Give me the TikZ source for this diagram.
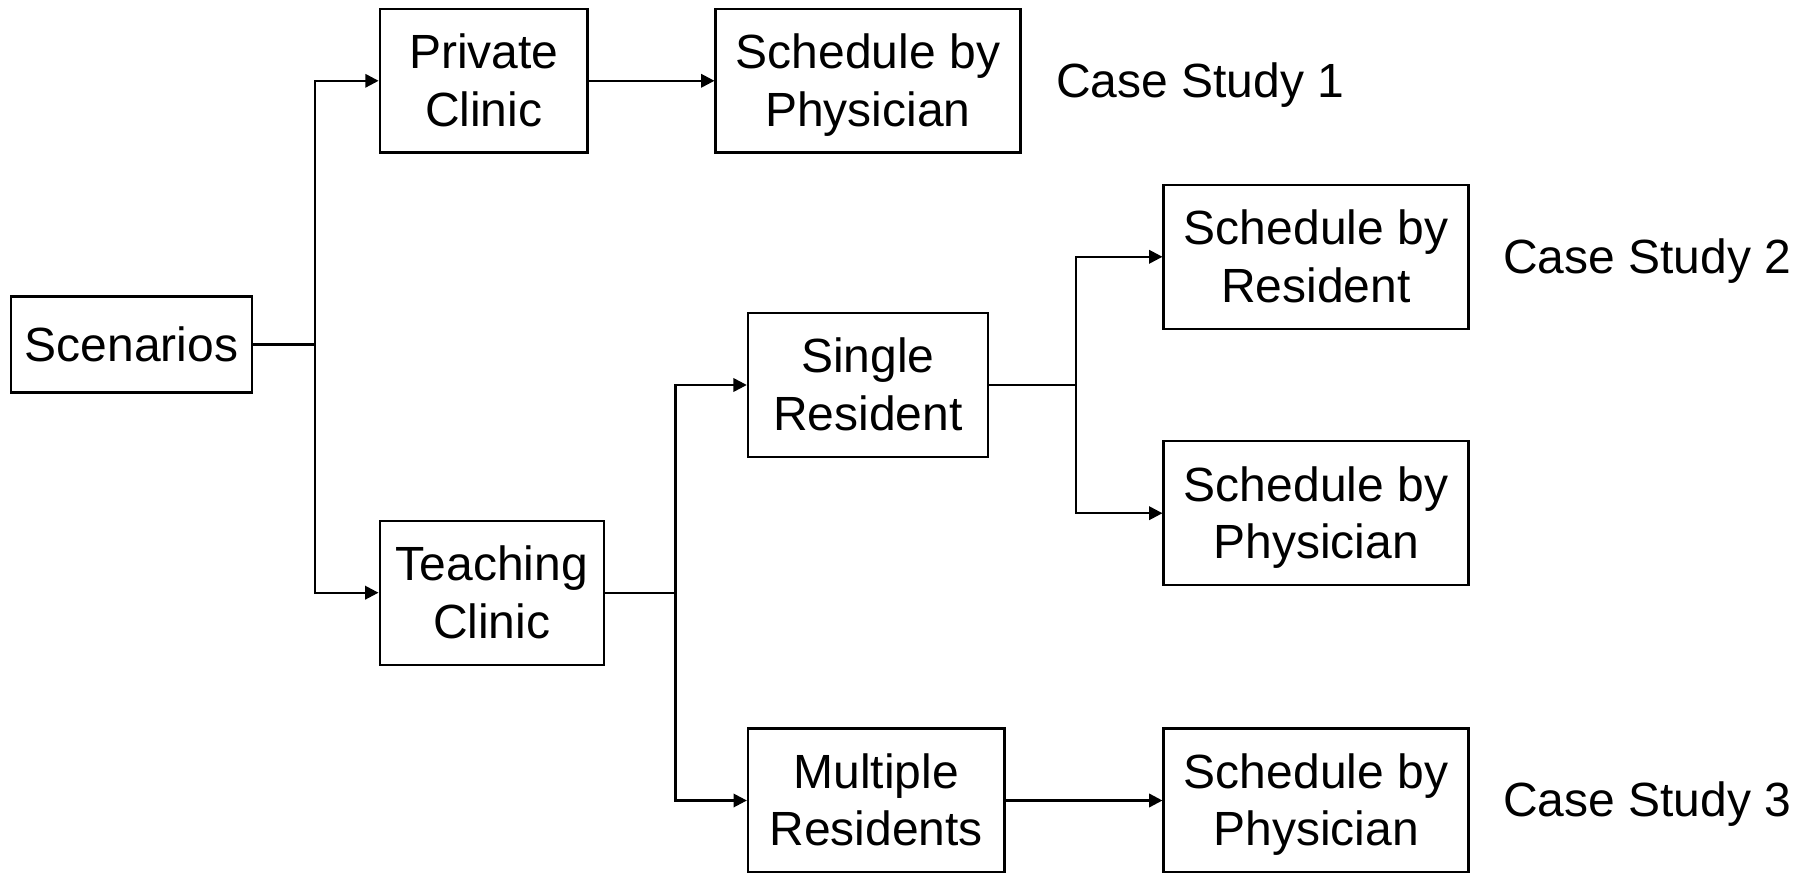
\documentclass[tikz,border=0pt]{standalone}
\usepackage{fontspec}
\setmainfont{Liberation Sans}
\usetikzlibrary{arrows.meta}

\tikzset{
  box/.style={draw, line width=1.8pt, inner sep=0pt, align=center,
    text height=75.6pt, text depth=7.6pt,
    font=\fontsize{36}{43}\selectfont},
  onebox/.style={box, text height=32.6pt},
  lbl/.style={anchor=west, inner sep=0pt, text height=32.6pt, text depth=7.6pt,
    font=\fontsize{36}{43}\selectfont},
  link/.style={line width=1.8pt},
  arr/.style={line width=1.8pt, -{Triangle[length=10pt,width=10pt]}}
}

\begin{document}
\begin{tikzpicture}[x=0.75pt,y=0.75pt,yscale=-1,xscale=1]
\useasboundingbox (0,0) rectangle (1810,873);

% Boxes
\node [onebox, minimum width=180.5pt, minimum height=72pt] (scen) at (131.5,344.7) {Scenarios};
\node [box, minimum width=155.8pt, minimum height=107.3pt] (priv) at (483.7,80.8) {Private\\Clinic};
\node [box, minimum width=168pt, minimum height=108pt] (teach) at (491.7,592.7) {Teaching\\Clinic};
\node [box, minimum width=228.5pt, minimum height=107.3pt] (phys1) at (868,80.8) {Schedule by\\Physician};
\node [box, minimum width=180pt, minimum height=108pt] (single) at (868,385) {Single\\Resident};
\node [box, minimum width=192.2pt, minimum height=108pt] (multi) at (876.2,800.5) {Multiple\\Residents};
\node [box, minimum width=228.5pt, minimum height=108pt] (res) at (1316,256.8) {Schedule by\\Resident};
\node [box, minimum width=228.5pt, minimum height=108pt] (phys2) at (1316,513.2) {Schedule by\\Physician};
\node [box, minimum width=228.5pt, minimum height=108pt] (phys3) at (1316,800.5) {Schedule by\\Physician};

% Case study labels
\node [lbl] (cs1) at (1056,80.8) {Case Study 1};
\node [lbl] (cs2) at (1503,256.8) {Case Study 2};
\node [lbl] (cs3) at (1503,799.5) {Case Study 3};

% Forks
\coordinate (fork1) at (315,344.7);
\coordinate (fork2) at (675.3,592.7);
\coordinate (fork3) at (1075.8,385);

% Connectors
\draw [link] (scen.east) -- (fork1);
\draw [arr] (fork1) |- (priv);
\draw [arr] (fork1) |- (teach);
\draw [arr] (priv) -- (phys1);
\draw [link] (teach.east) -- (fork2);
\draw [arr] (fork2) |- (single);
\draw [arr] (fork2) |- (multi);
\draw [link] (single.east) -- (fork3);
\draw [arr] (fork3) |- (res);
\draw [arr] (fork3) |- (phys2);
\draw [arr] (multi) -- (phys3);

\end{tikzpicture}
\end{document}
